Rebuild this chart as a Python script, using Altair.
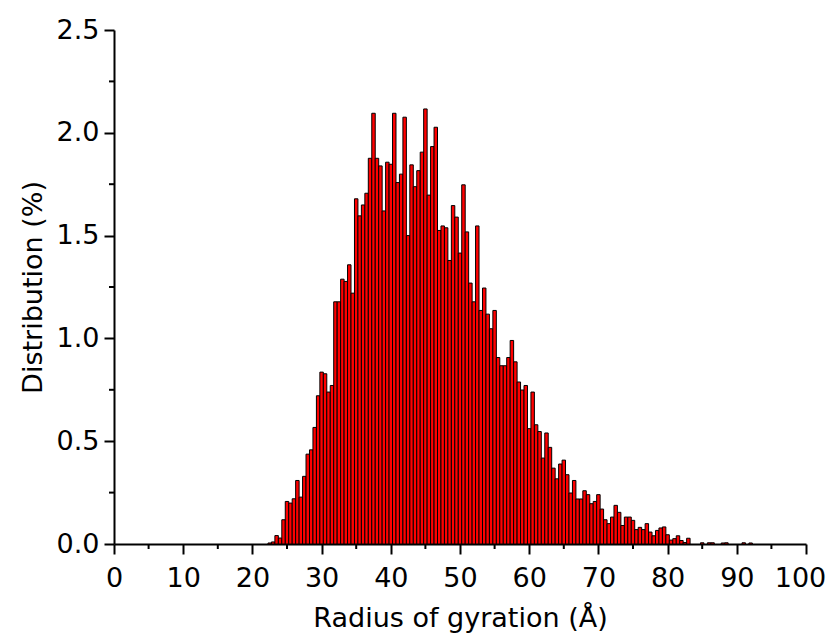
import altair as alt
import pandas as pd

# bin centres (Å) and distribution (%)
centers = [
    22.5, 23.0, 23.5, 24.0, 24.5, 25.0, 25.5, 26.0, 26.5, 27.0, 27.5, 28.0, 28.5, 29.0, 29.5,
    30.0, 30.5, 31.0, 31.5, 32.0, 32.5, 33.0, 33.5, 34.0, 34.5, 35.0, 35.5, 36.0, 36.5, 37.0,
    37.5, 38.0, 38.5, 39.0, 39.5, 40.0, 40.5, 41.0, 41.5, 42.0, 42.5, 43.0, 43.5, 44.0, 44.5,
    45.0, 45.5, 46.0, 46.5, 47.0, 47.5, 48.0, 48.5, 49.0, 49.5, 50.0, 50.5, 51.0, 51.5, 52.0,
    52.5, 53.0, 53.5, 54.0, 54.5, 55.0, 55.5, 56.0, 56.5, 57.0, 57.5, 58.0, 58.5, 59.0, 59.5,
    60.0, 60.5, 61.0, 61.5, 62.0, 62.5, 63.0, 63.5, 64.0, 64.5, 65.0, 65.5, 66.0, 66.5, 67.0,
    67.5, 68.0, 68.5, 69.0, 69.5, 70.0, 70.5, 71.0, 71.5, 72.0, 72.5, 73.0, 73.5, 74.0, 74.5,
    75.0, 75.5, 76.0, 76.5, 77.0, 77.5, 78.0, 78.5, 79.0, 79.5, 80.0, 80.5, 81.0, 81.5, 82.0,
    82.5, 83.0, 85.0, 86.0, 86.5, 88.0, 88.5, 91.0, 92.0,
]
values = [
    0.005, 0.010, 0.041, 0.029, 0.118, 0.207, 0.199, 0.220, 0.309, 0.228, 0.329, 0.437, 0.458, 0.567, 0.721,
    0.836, 0.828, 0.739, 0.771, 1.178, 1.178, 1.288, 1.277, 1.358, 1.220, 1.679, 1.596, 1.649, 1.706, 1.876,
    2.095, 1.876, 1.839, 1.620, 1.857, 1.847, 2.095, 1.758, 1.799, 2.076, 1.500, 1.844, 1.738, 1.816, 1.906,
    2.116, 1.697, 1.933, 2.027, 1.525, 1.547, 1.538, 1.379, 1.646, 1.590, 1.415, 1.747, 1.518, 1.269, 1.178,
    1.547, 1.136, 1.245, 1.118, 1.047, 1.136, 0.907, 0.867, 0.867, 0.907, 0.990, 0.886, 0.788, 0.749, 0.771,
    0.561, 0.739, 0.580, 0.547, 0.418, 0.540, 0.470, 0.369, 0.317, 0.389, 0.408, 0.337, 0.248, 0.309, 0.219,
    0.219, 0.259, 0.240, 0.196, 0.207, 0.240, 0.170, 0.118, 0.099, 0.131, 0.188, 0.154, 0.090, 0.131, 0.131,
    0.115, 0.070, 0.081, 0.070, 0.099, 0.058, 0.040, 0.066, 0.078, 0.083, 0.045, 0.019, 0.026, 0.040, 0.017,
    0.007, 0.028, 0.006, 0.006, 0.006, 0.005, 0.006, 0.006, 0.005,
]
bin_width = 0.5

x_major = [0, 10, 20, 30, 40, 50, 60, 70, 80, 90, 100]
x_minor = [5, 15, 25, 35, 45, 55, 65, 75, 85, 95]
y_major = [0.0, 0.5, 1.0, 1.5, 2.0, 2.5]
y_minor = [0.25, 0.75, 1.25, 1.75, 2.25]

W, H = 692, 514
FONT = "DejaVu Sans"

df = pd.DataFrame({"c": centers, "v": values})
df["x0"] = df["c"] - bin_width / 2
df["x1"] = df["c"] + bin_width / 2
df["zero"] = 0.0

xscale = alt.Scale(domain=[0, 100], nice=False, zero=False)
yscale = alt.Scale(domain=[0, 2.5], nice=False)

common = dict(
    grid=False, domainColor="black", domainWidth=2, tickColor="black",
    tickWidth=2, tickSize=10, labelFont=FONT, labelFontSize=27,
    labelColor="black", labelFlush=False, labelOverlap=False,
    titleFont=FONT, titleFontSize=27, titleFontWeight="normal", titleColor="black",
)

bars = alt.Chart(df).mark_bar(
    color="#FF0000", stroke="#000000", strokeWidth=1, opacity=1
).encode(
    x=alt.X("x0:Q", scale=xscale, axis=alt.Axis(
        values=x_major, title="Radius of gyration (Å)", format="d",
        labelPadding=11, titlePadding=14,
        labelOffset={"condition": {"test": "datum.value == 100", "value": -6}, "value": 0},
        **common,
    )),
    x2="x1:Q",
    y=alt.Y("v:Q", scale=yscale, axis=alt.Axis(
        values=y_major, title="Distribution (%)", format=".1f",
        labelPadding=5, titlePadding=9, **common,
    )),
    y2="zero:Q",
)

xminor = alt.Chart(pd.DataFrame({"m": x_minor})).mark_rule(
    color="black", strokeWidth=2
).encode(
    x=alt.X("m:Q", scale=xscale),
    y=alt.value(H),
    y2=alt.value(H + 5),
)

yminor = alt.Chart(pd.DataFrame({"m": y_minor})).mark_rule(
    color="black", strokeWidth=2
).encode(
    y=alt.Y("m:Q", scale=yscale),
    x=alt.value(-5),
    x2=alt.value(0),
)

chart = alt.layer(bars, xminor, yminor).properties(
    width=W, height=H,
    background="white",
    autosize=alt.AutoSizeParams(type="none"),
    padding={"left": 106, "top": 22, "right": 21, "bottom": 90},
).configure_view(stroke="transparent", strokeWidth=0)

chart.save("out.html", embed_options={"renderer": "svg", "actions": False})
